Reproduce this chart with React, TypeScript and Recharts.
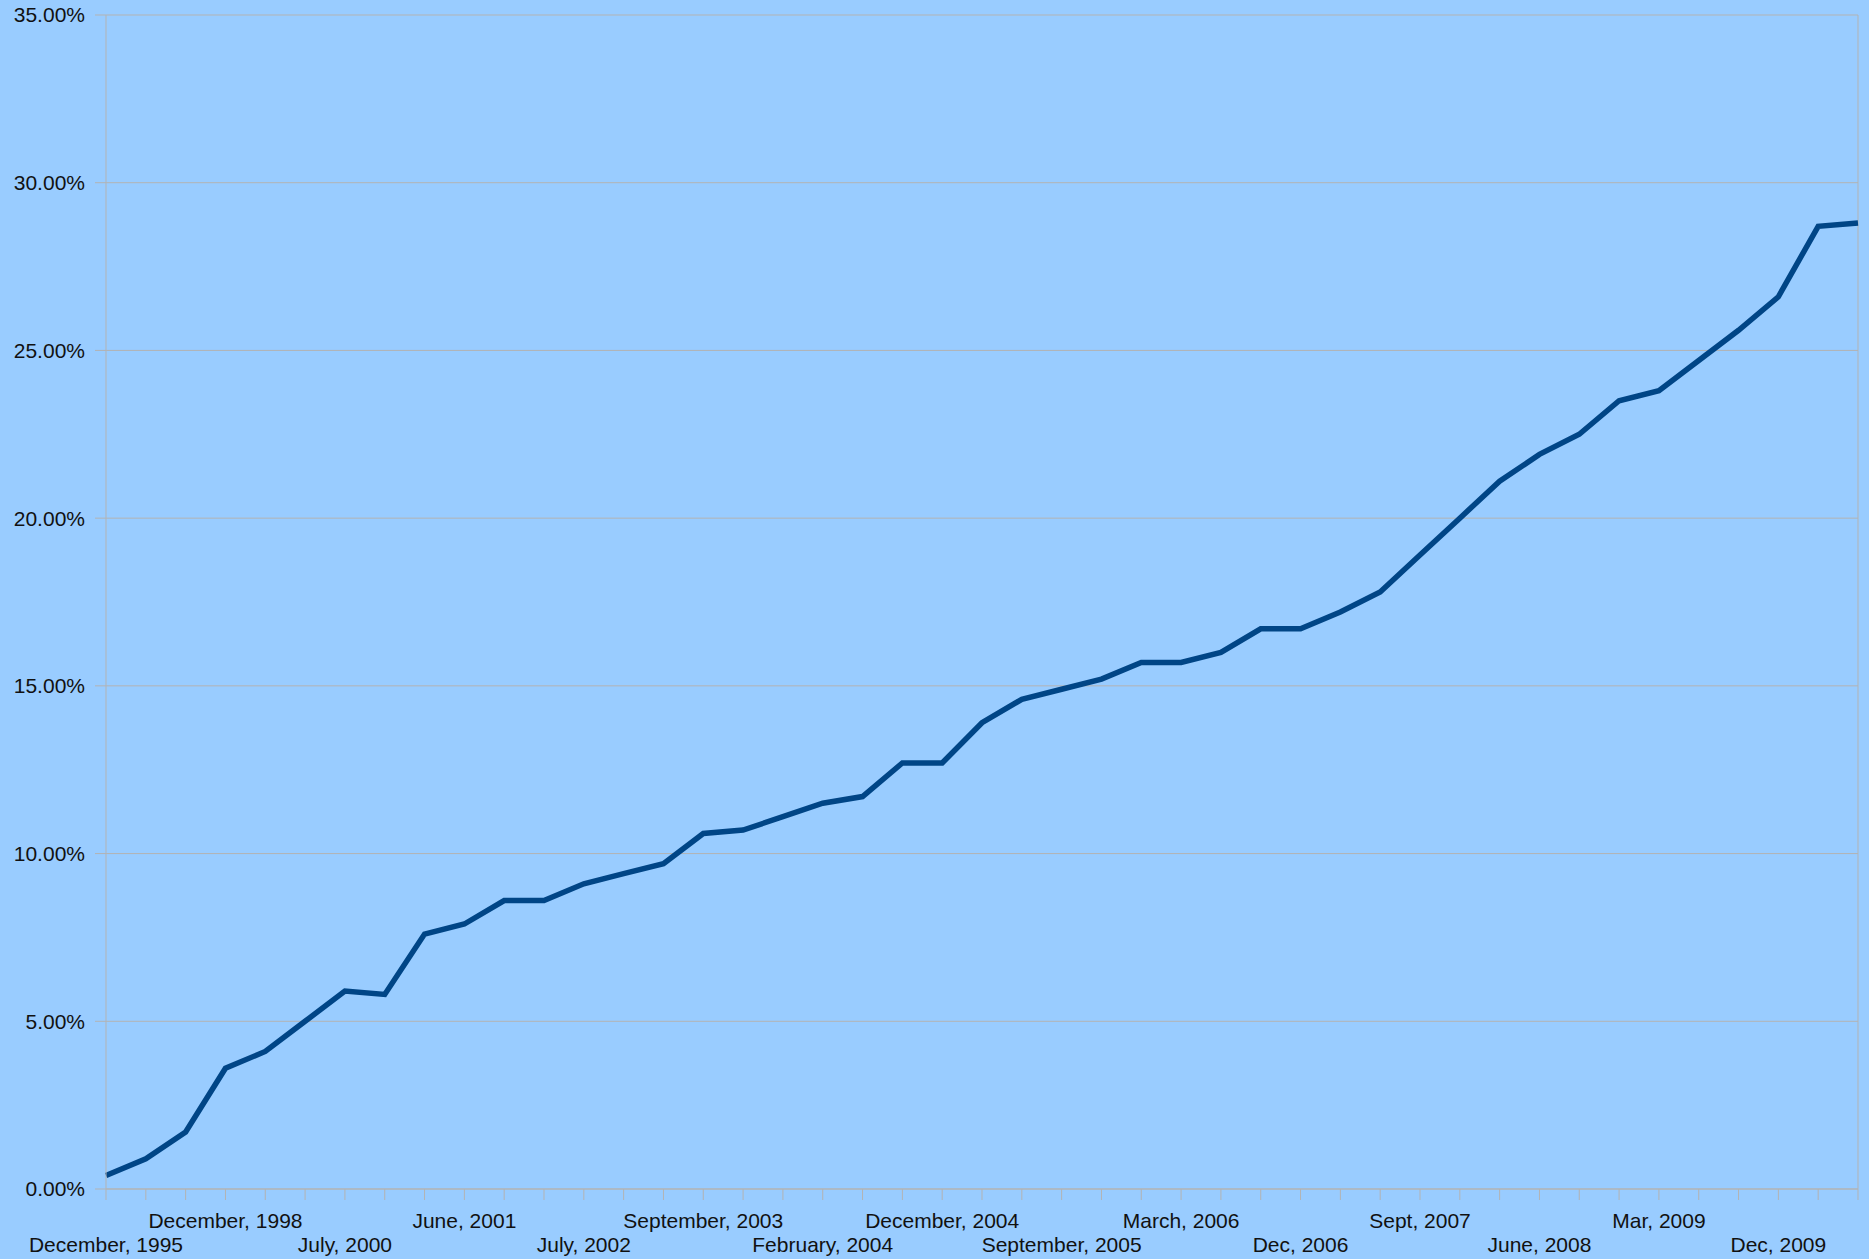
import React from "react";
import {
  LineChart,
  Line,
  XAxis,
  YAxis,
  CartesianGrid,
  ReferenceLine,
} from "recharts";

// survey dates, one per point
const categories = [
  "December, 1995", "December, 1996", "December, 1997", "December, 1998",
  "December, 1999", "March, 2000", "July, 2000", "December, 2000",
  "March, 2001", "June, 2001", "August, 2001", "April, 2002",
  "July, 2002", "September, 2002", "March, 2003", "September, 2003",
  "October, 2003", "December, 2003", "February, 2004", "May, 2004",
  "October, 2004", "December, 2004", "March, 2005", "June, 2005",
  "September, 2005", "November, 2005", "December, 2005", "March, 2006",
  "June, 2006", "Sept, 2006", "Dec, 2006", "Mar, 2007",
  "June, 2007", "Sept, 2007", "Dec, 2007", "Mar, 2008",
  "June, 2008", "Sept, 2008", "Dec, 2008", "Mar, 2009",
  "June, 2009", "Sept, 2009", "Dec, 2009", "June, 2010",
  "Sept, 2010",
];

// percent of world population
const penetration = [
  0.4, 0.9, 1.7, 3.6, 4.1, 5.0, 5.9, 5.8, 7.6, 7.9, 8.6, 8.6,
  9.1, 9.4, 9.7, 10.6, 10.7, 11.1, 11.5, 11.7, 12.7, 12.7, 13.9, 14.6,
  14.9, 15.2, 15.7, 15.7, 16.0, 16.7, 16.7, 17.2, 17.8, 18.9, 20.0, 21.1,
  21.9, 22.5, 23.5, 23.8, 24.7, 25.6, 26.6, 28.7, 28.8,
];

const yTicks = [0, 5, 10, 15, 20, 25, 30, 35];

const data = categories.map((name, i) => ({ name, value: penetration[i] }));

const FONT = "'Liberation Sans', Arial, sans-serif";
const GRID = "#b3b3b3";

// only every third date gets a label, alternating between two rows
const XTick = (props: any) => {
  const { x, y, payload, index } = props;
  const i = payload?.index ?? index;
  if (i % 3 !== 0) return <g />;
  const lower = (i / 3) % 2 === 0;
  return (
    <text
      x={x}
      y={y}
      dy={lower ? 52 : 28}
      textAnchor="middle"
      fill="#111"
      fontSize={21}
      fontFamily={FONT}
    >
      {payload.value}
    </text>
  );
};

const App = () => {
  return (
    <div
      style={{
        position: "fixed",
        left: 0,
        top: 0,
        width: 1869,
        height: 1259,
        background: "#99ccff",
      }}
    >
      <LineChart
        width={1869}
        height={1259}
        data={data}
        margin={{ top: 15, right: 11, left: 0, bottom: 0 }}
      >
        <CartesianGrid vertical={false} stroke={GRID} />
        <XAxis
          dataKey="name"
          interval={0}
          height={70}
          tickSize={11}
          tickMargin={0}
          tickLine={{ stroke: GRID }}
          axisLine={{ stroke: GRID }}
          tick={(p: any) => <XTick {...p} />}
        />
        <YAxis
          type="number"
          domain={[0, 35]}
          ticks={yTicks}
          width={106}
          tickSize={11}
          tickMargin={10}
          tickLine={{ stroke: GRID }}
          axisLine={{ stroke: GRID }}
          tick={{ fill: "#111", fontSize: 21, fontFamily: FONT }}
          tickFormatter={(v: number) => v.toFixed(2) + "%"}
        />
        <ReferenceLine x={categories[categories.length - 1]} stroke={GRID} />
        <Line
          type="linear"
          dataKey="value"
          stroke="#004586"
          strokeWidth={5.5}
          dot={false}
          activeDot={false}
          isAnimationActive={false}
        />
      </LineChart>
    </div>
  );
};

export default App;
